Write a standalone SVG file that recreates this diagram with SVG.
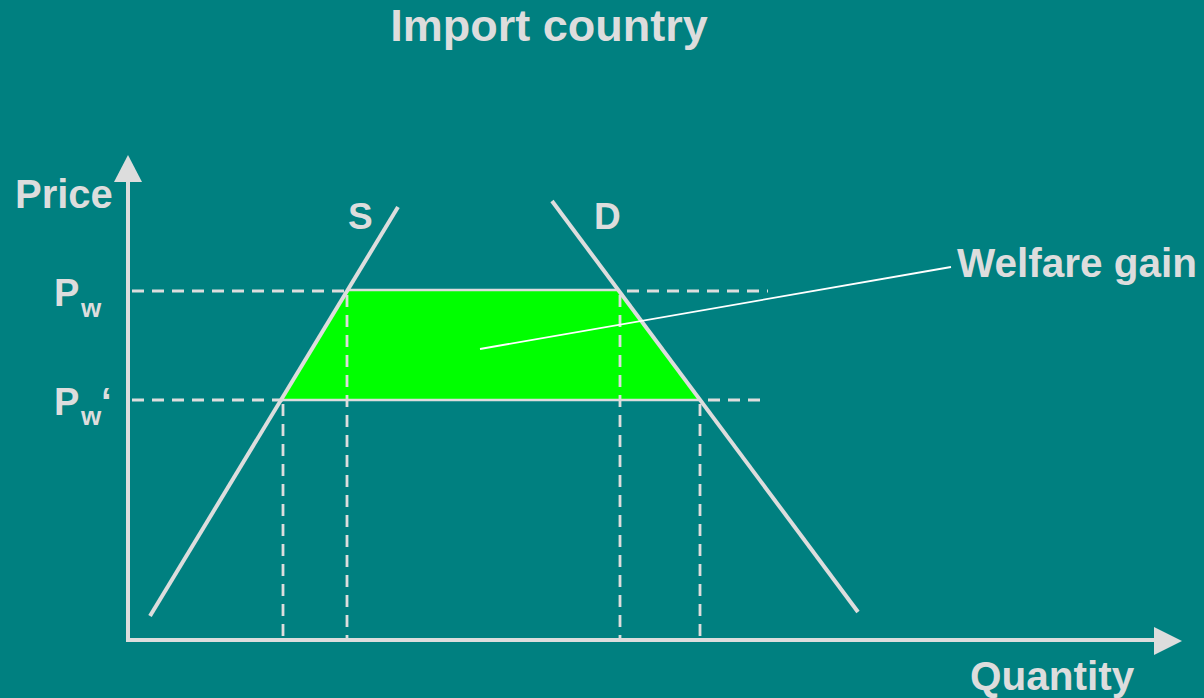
<svg xmlns="http://www.w3.org/2000/svg" width="1204" height="698" viewBox="0 0 1204 698">
<style>
.t{font-family:"Liberation Sans",Arial,sans-serif;font-weight:bold;fill:#DDDDDD}
.ax{stroke:#DDDDDD;stroke-width:4;fill:none}
.cv{stroke:#DDDDDD;stroke-width:4;fill:none}
.dash{stroke:#DDDDDD;stroke-width:2.8;stroke-dasharray:12 8;fill:none}
</style>
<rect width="1204" height="698" fill="#008080"/>
<text id="title" class="t" x="549" y="41" font-size="45" text-anchor="middle">Import country</text>
<g id="welfare-area">
<polygon points="283,400 347,290 619,290 700,400" fill="#00FF00"/>
<line x1="347" y1="290" x2="619" y2="290" stroke="#DDDDDD" stroke-width="2.5"/>
<line x1="283" y1="400" x2="700" y2="400" stroke="#DDDDDD" stroke-width="2.5"/>
</g>
<g id="guides">
<line class="dash" x1="132" y1="291" x2="347" y2="291"/>
<line class="dash" x1="627" y1="291" x2="768" y2="291"/>
<line class="dash" x1="132" y1="400" x2="283" y2="400"/>
<line class="dash" x1="708" y1="400" x2="768" y2="400"/>
<line class="dash" x1="283" y1="404" x2="283" y2="640"/>
<line class="dash" x1="347" y1="295" x2="347" y2="640"/>
<line class="dash" x1="620" y1="295" x2="620" y2="640"/>
<line class="dash" x1="700" y1="404" x2="700" y2="640"/>
</g>
<g id="supply">
<line class="cv" x1="150" y1="616" x2="398" y2="207"/>
<text class="t" x="348" y="229" font-size="37">S</text>
</g>
<g id="demand">
<line class="cv" x1="552" y1="201" x2="858" y2="612"/>
<text class="t" x="594" y="229" font-size="37">D</text>
</g>
<g id="axes">
<line class="ax" x1="128" y1="642" x2="128" y2="178"/>
<polygon points="128,155 114,182 142,182" fill="#DDDDDD"/>
<line class="ax" x1="126" y1="640" x2="1158" y2="640"/>
<polygon points="1182,641 1154,627 1154,655" fill="#DDDDDD"/>
<text id="price-label" class="t" x="15" y="208" font-size="40">Price</text>
<text id="quantity-label" class="t" x="970" y="690" font-size="40.5">Quantity</text>
</g>
<g id="pw-label">
<text class="t" x="54" y="306" font-size="38">P</text>
<text class="t" x="81" y="317" font-size="26">w</text>
</g>
<g id="pw2-label">
<text class="t" x="54" y="415" font-size="38">P</text>
<text class="t" x="81" y="425" font-size="26">w</text>
<text class="t" x="101" y="415" font-size="38">‘</text>
</g>
<g id="welfare-label">
<text class="t" x="957" y="277" font-size="40.5">Welfare gain</text>
</g>
<g id="connectors">
<line x1="480" y1="349" x2="951" y2="267" stroke="#FFFFFF" stroke-width="1.8"/>
</g>
</svg>
